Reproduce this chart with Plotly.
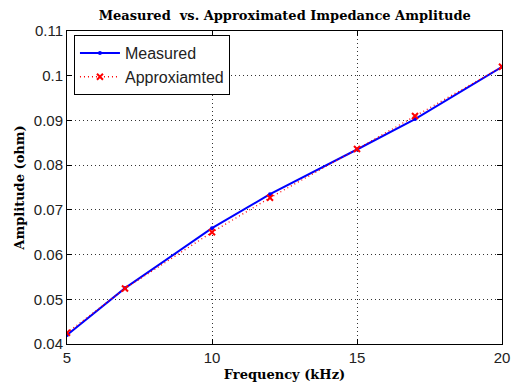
import plotly.graph_objects as go

freq = [5, 7, 10, 12, 15, 17, 20]
measured = [0.0420, 0.0525, 0.0659, 0.0735, 0.0835, 0.0903, 0.1020]
approximated = [0.0425, 0.0524, 0.0650, 0.0727, 0.0836, 0.0910, 0.1020]

x_ticks = [5, 10, 15, 20]
y_ticks = [0.04, 0.05, 0.06, 0.07, 0.08, 0.09, 0.10, 0.11]
y_tick_text = ["0.04", "0.05", "0.06", "0.07", "0.08", "0.09", "0.1", "0.11"]

fig = go.Figure()
fig.add_trace(go.Scatter(
    x=freq, y=measured, name="Measured", mode="lines+markers",
    line=dict(color="#0000ff", width=2),
    marker=dict(symbol="circle", size=4, color="#0000ff"),
))
fig.add_trace(go.Scatter(
    x=freq, y=approximated, name="Approxiamted", mode="lines+markers",
    line=dict(color="#ff0000", width=1.3, dash="1px,3px"),
    marker=dict(symbol="x-thin", size=6, color="#ff0000",
                line=dict(color="#ff0000", width=2)),
))

serif = "DejaVu Serif, Liberation Serif, Times New Roman"
sans = "Liberation Sans, Arial"

axis_common = dict(
    showgrid=True, gridcolor="#333333", griddash="1px,3px", gridwidth=1,
    showline=True, linecolor="#000000", linewidth=1, mirror="ticks",
    ticks="inside", ticklen=5, tickcolor="#000000",
    zeroline=False, automargin=False,
    tickfont=dict(family=sans, size=15, color="#222222"),
)

fig.update_xaxes(
    range=[5, 20], tickvals=x_ticks,
    title=dict(text="<b>Frequency (kHz)</b>", standoff=4,
               font=dict(family=serif, size=13, color="#000000")),
    **axis_common,
)
fig.update_yaxes(
    range=[0.04, 0.11], tickvals=y_ticks, ticktext=y_tick_text,
    title=dict(text="<b>Amplitude (ohm)</b>", standoff=6,
               font=dict(family=serif, size=13, color="#000000")),
    **axis_common,
)

fig.update_layout(
    width=513, height=385,
    margin=dict(l=67, r=11, t=31, b=41),
    paper_bgcolor="white", plot_bgcolor="white",
    title=dict(text="<b>Measured  vs. Approximated Impedance Amplitude</b>",
               x=0.555, xanchor="center", y=0.96, yanchor="middle",
               font=dict(family=serif, size=13, color="#000000")),
    legend=dict(
        x=0.016, y=0.987, xanchor="left", yanchor="top",
        bgcolor="white", bordercolor="#000000", borderwidth=1,
        font=dict(family=sans, size=16, color="#222222"),
        tracegroupgap=0, itemwidth=40,
    ),
)

fig.write_html("out.html")
